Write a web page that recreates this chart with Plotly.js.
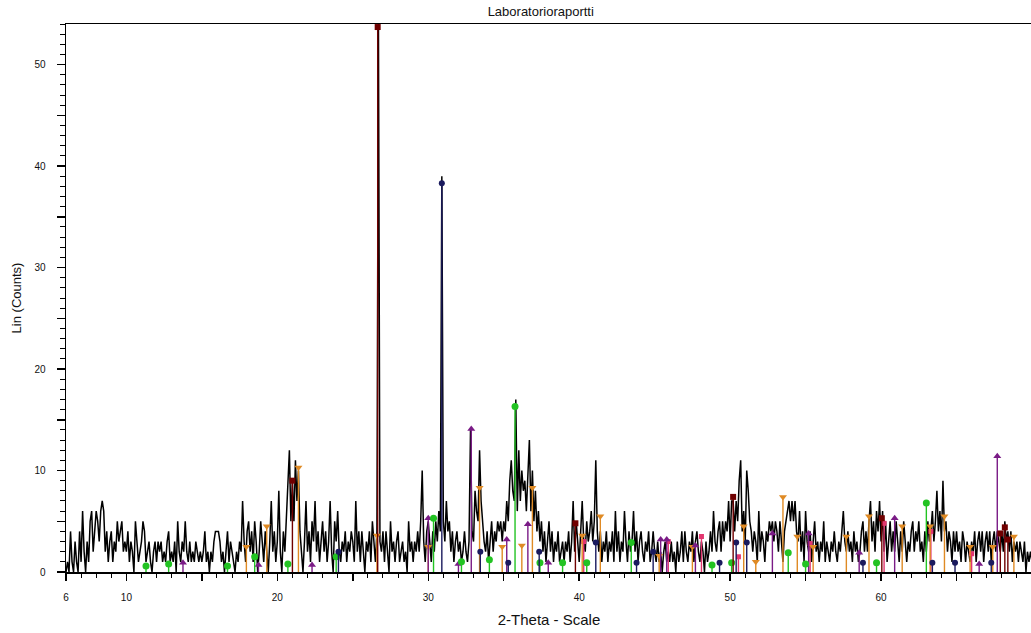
<!DOCTYPE html>
<html>
<head>
<meta charset="utf-8">
<script src="https://cdn.plot.ly/plotly-3.0.1.min.js"></script>
<style>
html,body{margin:0;padding:0;background:#fff;overflow:hidden;}
#chart{width:1032px;height:633px;}
</style>
</head>
<body>
<div id="chart"></div>
<script>
// 2-Theta scan: start, step, and counts (one row per degree, 0.1 deg step)
const thetaStart = 6.0;
const thetaStep = 0.1;
const counts = [
  0,1,0,4,1,0,3,1,0,4,        // 6
  1,6,2,0,3,1,5,6,2,4,        // 7
  6,5,3,6,7,6,2,4,1,3,        // 8
  4,1,3,2,5,3,4,5,2,3,        // 9
  2,4,1,3,2,0,5,3,1,2,        // 10
  3,5,4,1,2,3,1,0,2,3,        // 11
  1,3,2,3,1,2,1,3,4,1,        // 12
  2,1,3,0,5,2,1,3,2,5,        // 13
  2,1,3,1,2,1,3,2,1,2,        // 14
  1,2,4,1,2,0,2,1,3,4,        // 15
  4,4,3,1,2,0,2,4,1,3,        // 16
  2,1,0,2,1,3,2,7,3,1,        // 17
  4,5,2,4,1,5,3,0,2,5,        // 18
  3,1,4,2,0,3,7,2,4,1,        // 19
  3,8,2,0,4,2,5,8,12,5,       // 20
  9,5,11,7,10,4,2,0,3,7,      // 21
  2,4,1,5,3,7,2,4,1,3,        // 22
  5,2,4,1,3,7,2,0,5,3,        // 23
  6,2,1,3,2,4,1,3,2,4,        // 24
  3,1,7,2,4,1,4,2,0,3,        // 25
  2,4,1,5,3,1,4,54,3,2,       // 26
  4,1,4,2,0,5,2,3,1,3,        // 27
  4,1,2,3,1,2,0,5,2,3,        // 28
  1,3,2,4,2,5,10,3,1,4,       // 29
  5,3,1,4,2,5,3,6,4,39,       // 30
  5,3,7,4,5,2,4,1,3,4,        // 31
  2,3,1,2,4,2,1,3,14,4,       // 32
  3,8,6,5,12,7,5,3,2,4,       // 33
  1,3,5,2,4,3,5,4,5,3,        // 34
  5,4,7,5,9,11,8,7,17,6,      // 35
  12,7,10,8,9,6,9,13,6,10,    // 36
  5,8,4,6,3,5,2,4,1,3,        // 37
  5,2,4,1,3,2,4,1,2,3,        // 38
  1,3,2,4,1,3,7,2,5,3,        // 39
  1,4,7,3,2,5,3,4,6,3,        // 40
  5,11,4,2,4,1,3,2,4,1,       // 41
  3,2,4,1,6,2,4,1,3,2,        // 42
  6,3,1,4,2,3,6,2,4,1,        // 43
  3,4,2,1,3,2,4,1,2,4,        // 44
  2,1,3,1,2,0,2,3,1,2,        // 45
  1,3,1,2,0,3,1,2,4,1,        // 46
  4,2,1,3,2,4,1,3,4,2,        // 47
  1,3,2,0,3,1,2,4,2,6,        // 48
  3,2,4,5,2,5,3,5,4,7,        // 49
  3,7,7,4,7,5,9,11,4,6,       // 50
  3,10,8,5,4,2,4,3,1,6,       // 51
  2,4,3,1,4,3,5,4,5,3,        // 52
  5,4,2,5,3,1,4,5,6,7,        // 53
  5,7,5,7,4,3,6,2,4,1,        // 54
  6,3,2,4,1,3,5,2,3,1,        // 55
  3,2,5,1,3,2,1,3,2,4,        // 56
  2,1,3,2,4,6,3,2,4,2,        // 57
  3,1,4,2,3,1,2,4,5,2,        // 58
  4,2,5,7,3,5,2,6,4,7,        // 59
  3,6,2,5,1,3,5,2,4,2,        // 60
  5,3,1,4,2,5,3,1,3,2,        // 61
  4,5,2,4,3,5,2,3,1,4,        // 62
  2,5,3,4,6,3,5,8,4,6,        // 63
  3,9,4,5,2,4,3,1,4,2,        // 64
  4,2,3,1,4,3,1,3,2,1,        // 65
  3,2,4,1,3,4,2,4,1,3,        // 66
  4,2,4,1,3,4,2,4,3,2,        // 67
  4,2,5,3,4,2,4,1,3,2,        // 68
  3,1,3,2,1,3,0,2,1,2,        // 69
  1                           // 70
];

// Phase identification sticks (position in 2-Theta, stick height in counts)
const redPos = [21.0, 26.65, 39.75, 50.2, 60.05, 67.9, 68.2, 68.4];
const redH   = [9.0, 53.7, 4.8, 7.4, 5.3, 3.8, 4.4, 3.2];
const greenPos = [11.3, 12.8, 16.7, 18.5, 20.7, 23.9, 30.35, 32.2, 34.05, 35.75, 37.4, 38.9, 40.5, 43.45, 48.8, 50.1, 53.85, 55.0, 59.7, 63.0];
const greenH   = [0.6, 0.8, 0.6, 1.5, 0.8, 1.5, 5.3, 1.0, 1.2, 16.3, 0.9, 0.9, 0.9, 2.9, 0.7, 0.9, 1.9, 0.8, 0.9, 6.8];
const purplePos = [13.75, 18.75, 22.3, 30.0, 32.0, 32.85, 35.2, 36.6, 37.95, 45.4, 45.8, 47.7, 52.8, 55.2, 58.55, 60.9, 66.5, 67.7];
const purpleH   = [0.9, 0.7, 0.7, 5.3, 0.8, 14.1, 3.2, 4.7, 0.9, 3.2, 3.2, 2.6, 3.8, 3.8, 1.9, 5.3, 0.8, 11.4];
const orangePos = [17.95, 19.3, 21.4, 26.6, 30.0, 33.4, 34.9, 36.2, 36.9, 40.2, 41.4, 45.3, 47.5, 50.9, 51.7, 53.5, 54.45, 55.5, 57.7, 59.2, 61.4, 63.25, 64.2, 65.9, 67.4, 68.8];
const orangeH   = [2.5, 4.5, 10.3, 3.6, 2.5, 8.3, 2.5, 2.6, 8.3, 3.6, 5.5, 1.6, 2.5, 4.5, 1.0, 7.4, 3.5, 2.5, 3.5, 5.5, 4.5, 4.5, 5.5, 2.5, 2.5, 3.5];
const navyPos = [24.05, 30.9, 33.45, 35.3, 37.35, 41.1, 43.8, 44.9, 49.3, 50.4, 51.1, 58.8, 63.4, 64.9, 67.3];
const navyH   = [2.0, 38.3, 2.0, 0.9, 2.0, 2.9, 0.9, 2.0, 0.9, 2.9, 2.9, 0.9, 0.9, 0.9, 0.9];
const pinkPos = [40.3, 45.9, 48.1, 50.55, 55.3, 60.2, 63.3, 66.0];
const pinkH   = [3.0, 3.0, 3.5, 1.5, 2.8, 4.8, 4.0, 1.8];

const xTickVals = [6, 10, 15, 20, 25, 30, 35, 40, 45, 50, 55, 60, 65, 70];
const xTickText = ['6', '10', '', '20', '', '30', '', '40', '', '50', '', '60', '', '70'];
const yTickVals = [0, 5, 10, 15, 20, 25, 30, 35, 40, 45, 50];
const yTickText = ['0', '', '10', '', '20', '', '30', '', '40', '', '50'];

const theta = counts.map((_, i) => +(thetaStart + i * thetaStep).toFixed(2));

function sticks(pos, h, color, symbol, size) {
  return {
    type: 'scatter', mode: 'markers', x: pos, y: h,
    marker: {symbol: symbol, size: size, color: color, line: {width: 0}},
    error_y: {type: 'data', symmetric: false, array: h.map(() => 0), arrayminus: h,
              width: 0, thickness: 1.4, color: color},
    hoverinfo: 'x+y', showlegend: false, cliponaxis: false
  };
}

const traces = [
  {type: 'scatter', mode: 'lines', x: theta, y: counts,
   line: {color: '#000000', width: 1.5}, showlegend: false},
  sticks(pinkPos, pinkH, '#e2366f', 'square', 5),
  sticks(orangePos, orangeH, '#df8a24', 'triangle-down', 7),
  sticks(purplePos, purpleH, '#7a1b86', 'triangle-up', 7),
  sticks(greenPos, greenH, '#22c322', 'circle', 7),
  sticks(navyPos, navyH, '#1a1a5e', 'circle', 6),
  sticks(redPos, redH, '#700000', 'square', 6)
];

const tickFont = {family: 'Liberation Sans, Arial, sans-serif', size: 10, color: '#111'};

const layout = {
  width: 1032, height: 633,
  margin: {l: 66, r: 0, t: 24, b: 61},
  paper_bgcolor: '#ffffff', plot_bgcolor: '#ffffff',
  showlegend: false,
  title: {text: 'Laboratorioraportti', x: 0.524, xanchor: 'center', y: 0.982, yanchor: 'middle',
          font: {family: 'Liberation Sans, Arial, sans-serif', size: 13, color: '#111'}},
  xaxis: {
    range: [6, 70], showgrid: false, zeroline: false,
    showline: true, linecolor: '#000', linewidth: 1.5, mirror: true,
    tickmode: 'array', tickvals: xTickVals, ticktext: xTickText,
    ticks: 'outside', ticklen: 7, tickwidth: 1.5, tickcolor: '#000',
    ticklabelstandoff: 8,
    tickfont: tickFont,
    minor: {tickmode: 'linear', tick0: 0, dtick: 1, ticks: 'outside', ticklen: 4, tickwidth: 1, tickcolor: '#000'},
    title: {text: '2-Theta - Scale', standoff: 13,
            font: {family: 'Liberation Sans, Arial, sans-serif', size: 15, color: '#111'}}
  },
  yaxis: {
    range: [0, 54], showgrid: false, zeroline: false,
    showline: true, linecolor: '#000', linewidth: 1.5, mirror: true,
    tickmode: 'array', tickvals: yTickVals, ticktext: yTickText,
    ticks: 'outside', ticklen: 8, tickwidth: 1.5, tickcolor: '#000',
    ticklabelstandoff: 9,
    tickfont: tickFont,
    minor: {tickmode: 'linear', tick0: 0, dtick: 1, ticks: 'outside', ticklen: 5, tickwidth: 1, tickcolor: '#000'},
    title: {text: 'Lin (Counts)', standoff: 10,
            font: {family: 'Liberation Sans, Arial, sans-serif', size: 13, color: '#111'}}
  }
};

Plotly.newPlot('chart', traces, layout, {displayModeBar: false, staticPlot: true});
</script>
</body>
</html>
